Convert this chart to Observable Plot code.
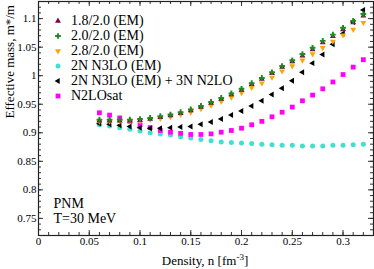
<!DOCTYPE html>
<html><head><meta charset="utf-8">
<script src="https://cdn.jsdelivr.net/npm/d3@7"></script>
<script src="https://cdn.jsdelivr.net/npm/@observablehq/plot@0.6"></script>
<style>
body{margin:0;background:#fff}
#wrap{position:relative;width:374px;height:269px;overflow:hidden;font-family:"Liberation Serif","Times New Roman",serif;color:#000}
.lg{position:absolute;font-size:14px;line-height:16px;white-space:nowrap}
.mk{position:absolute;width:12px;height:12px}
#xl{position:absolute;left:105px;width:200px;text-align:center;top:254px;height:14px;font-size:13px;line-height:13px;white-space:nowrap}
#xl sup{font-size:9px;line-height:0;vertical-align:5px}
</style>
</head><body><div id="wrap"></div>
<script>
// density grid
const density = [0.06,0.07,0.08,0.09,0.10,0.11,0.12,0.13,0.14,0.15,0.16,0.17,0.18,0.19,0.20,0.21,0.22,0.23,0.24,0.25,0.26,0.27,0.28,0.29,0.30,0.31,0.32];
// series values (m*/m)
const em18 = [0.921,0.921,0.921,0.921,0.922,0.924,0.927,0.930,0.934,0.939,0.945,0.952,0.959,0.967,0.975,0.985,0.994,1.004,1.015,1.025,1.035,1.046,1.058,1.069,1.081,1.093,1.105];
const em20 = [0.923,0.923,0.923,0.923,0.924,0.926,0.929,0.932,0.936,0.941,0.947,0.954,0.961,0.969,0.977,0.987,0.996,1.006,1.017,1.027,1.038,1.049,1.061,1.072,1.084,1.096,1.108];
const em28 = [0.920,0.920,0.920,0.920,0.921,0.923,0.925,0.928,0.932,0.936,0.942,0.948,0.955,0.962,0.970,0.979,0.987,0.997,1.008,1.017,1.027,1.038,1.049,1.060,1.071,1.081,1.093];
const n3lo = [0.914,0.912,0.909,0.906,0.903,0.900,0.898,0.896,0.893,0.891,0.888,0.886,0.884,0.883,0.882,0.881,0.880,0.879,0.878,0.878,0.877,0.877,0.877,0.878,0.878,0.879,0.880];
const n3lo3n = [0.916,0.915,0.913,0.911,0.909,0.908,0.908,0.909,0.910,0.911,0.915,0.919,0.924,0.931,0.938,0.947,0.956,0.967,0.978,0.991,1.006,1.022,1.037,1.055,1.074,1.094,1.115];
const n2losat = [0.935,0.931,0.926,0.920,0.914,0.909,0.904,0.901,0.899,0.897,0.897,0.898,0.901,0.904,0.908,0.914,0.920,0.928,0.936,0.945,0.956,0.966,0.977,0.989,1.002,1.015,1.028];

const seriesNames = ["1.8/2.0 (EM)","2.0/2.0 (EM)","2.8/2.0 (EM)","2N N3LO (EM)","2N N3LO (EM) + 3N N2LO","N2LOsat"];
const seriesColors = ["#800050","#1f8a1f","#ffa500","#40e0d0","#000000","#ff00ff"];

const xTicks = [0,0.05,0.1,0.15,0.2,0.25,0.3];
const xTickLabels = ["0","0.05","0.1","0.15","0.2","0.25","0.3"];
const yTicks = [0.75,0.8,0.85,0.9,0.95,1,1.05,1.1];
const yTickLabels = ["0.75","0.8","0.85","0.9","0.95","1","1.05","1.1"];

// style per series (draw order below)
const styles = [
  {name:seriesNames[3], vals:n3lo,   color:seriesColors[3], symbol:"circle",   rotate:0,   r:2.5},
  {name:seriesNames[5], vals:n2losat,color:seriesColors[5], symbol:"square",   rotate:0,   r:2.7},
  {name:seriesNames[4], vals:n3lo3n, color:seriesColors[4], symbol:"triangle", rotate:-90, r:2.2},
  {name:seriesNames[2], vals:em28,   color:seriesColors[2], symbol:"triangle", rotate:180, r:2.2},
  {name:seriesNames[0], vals:em18,   color:seriesColors[0], symbol:"triangle", rotate:0,   r:2.2},
  {name:seriesNames[1], vals:em20,   color:seriesColors[1], symbol:"cross",    rotate:0,   r:2.4}
];

const W = 374, H = 269, mL = 38, mR = 1, mT = 1, mB = 34;
const iW = W - mL - mR, iH = H - mT - mB;
const xMinor = d3.range(0, 0.3301, 0.01).map(v => +v.toFixed(2));
const yMinor = d3.range(0.72, 1.1301, 0.01).map(v => +v.toFixed(2));

const dotMarks = styles.map(s => Plot.dot(density.map((d,i)=>({x:d, y:s.vals[i]})), {
  x:"x", y:"y", symbol: () => s.symbol, fill: s.color, stroke: "none", r: s.r, rotate: s.rotate
}));

const tickStroke = "#333";
const chart = Plot.plot({
  width: W, height: H,
  marginLeft: mL, marginRight: mR, marginTop: mT, marginBottom: mB,
  x: {domain:[0,0.33]},
  y: {domain:[0.72,1.13]},
  symbol: {type:"identity"},
  style: {fontFamily:"'Liberation Serif','Times New Roman',serif", fontSize:"11px", background:"white", color:"#000", overflow:"visible"},
  marks: [
    Plot.tickX(xMinor, {x:d=>d, insetTop: iH-3, stroke:tickStroke}),
    Plot.tickX(xMinor, {x:d=>d, insetBottom: iH-3, stroke:tickStroke}),
    Plot.tickX(xTicks, {x:d=>d, insetTop: iH-5, stroke:tickStroke}),
    Plot.tickX(xTicks, {x:d=>d, insetBottom: iH-5, stroke:tickStroke}),
    Plot.tickY(yMinor, {y:d=>d, insetRight: iW-3, stroke:tickStroke}),
    Plot.tickY(yMinor, {y:d=>d, insetLeft: iW-3, stroke:tickStroke}),
    Plot.tickY(yTicks, {y:d=>d, insetRight: iW-5, stroke:tickStroke}),
    Plot.tickY(yTicks, {y:d=>d, insetLeft: iW-5, stroke:tickStroke}),
    Plot.axisX(xTicks, {tickSize:0, tickPadding:2, label:null, fontSize:11,
      tickFormat: d => xTickLabels[xTicks.indexOf(d)]}),
    Plot.axisY(yTicks, {tickSize:0, tickPadding:2, label:null, fontSize:11,
      tickFormat: d => yTickLabels[yTicks.indexOf(d)]}),
    Plot.frame({stroke:"#222", strokeWidth:1.2}),
    ...dotMarks,
    Plot.text(["Effective mass, m*/m"], {frameAnchor:"left", rotate:-90, dx:-29, fontSize:13, text:d=>d}),
    Plot.text(["PNM"], {frameAnchor:"bottom-left", textAnchor:"start", lineAnchor:"middle", dx:15, dy:-32, fontSize:14, text:d=>d}),
    Plot.text(["T=30 MeV"], {frameAnchor:"bottom-left", textAnchor:"start", lineAnchor:"middle", dx:15, dy:-16.5, fontSize:14, text:d=>d})
  ]
});
const wrap = document.getElementById("wrap");
chart.style.position = "absolute"; chart.style.left = "0"; chart.style.top = "0";
wrap.appendChild(chart);

// legend (inside the frame, top-left)
const legendOrder = [
  {i:0, symbol:d3.symbolTriangle, rotate:0, r:2.2},
  {i:1, symbol:d3.symbolCross, rotate:0, r:2.4},
  {i:2, symbol:d3.symbolTriangle, rotate:180, r:2.2},
  {i:3, symbol:d3.symbolCircle, rotate:0, r:2.5},
  {i:4, symbol:d3.symbolTriangle, rotate:-90, r:2.2},
  {i:5, symbol:d3.symbolSquare, rotate:0, r:2.7}
];
legendOrder.forEach((e, k) => {
  const cy = 20.5 + k * 15.1;
  const svg = d3.create("svg").attr("class","mk").attr("width",12).attr("height",12)
    .style("left", (58-6)+"px").style("top", (cy-6)+"px");
  svg.append("path").attr("d", d3.symbol(e.symbol, e.r*e.r*Math.PI)())
    .attr("transform", `translate(6,6) rotate(${e.rotate})`).attr("fill", seriesColors[e.i]);
  wrap.appendChild(svg.node());
  const t = document.createElement("div");
  t.className = "lg"; t.style.left = "71px"; t.style.top = (cy-8)+"px";
  t.textContent = seriesNames[e.i];
  wrap.appendChild(t);
});

const xl = document.createElement("div");
xl.id = "xl";
xl.innerHTML = "Density, n [fm<sup>-3</sup>]";
wrap.appendChild(xl);
</script></body></html>
